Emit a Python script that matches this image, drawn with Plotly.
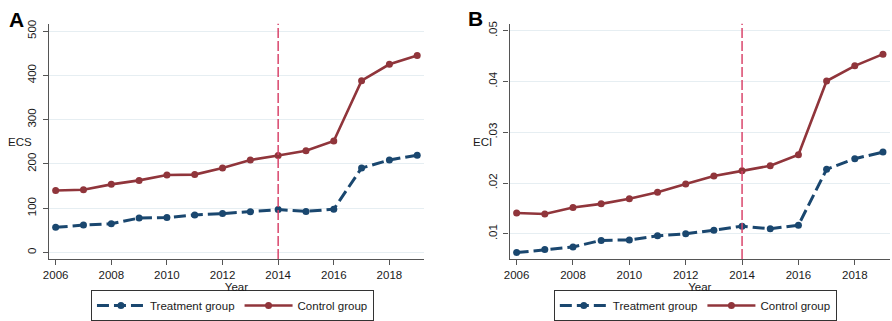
import plotly.graph_objects as go

years = list(range(2006, 2020))
ecs_treatment = [57, 62, 65, 78, 79, 85, 88, 92, 97, 93, 98, 191, 209, 220]
ecs_control = [140, 142, 154, 163, 175, 176, 191, 209, 219, 230, 252, 388, 425, 445]
eci_treatment = [0.0063, 0.0069, 0.0074, 0.0087, 0.0088, 0.0096, 0.0100, 0.0107, 0.0115, 0.0110, 0.0117, 0.0227, 0.0248, 0.0261]
eci_control = [0.0141, 0.0139, 0.0152, 0.0159, 0.0169, 0.0182, 0.0198, 0.0214, 0.0224, 0.0234, 0.0256, 0.0401, 0.0431, 0.0454]

x_ticks = [2006, 2008, 2010, 2012, 2014, 2016, 2018]
ecs_ticks = [0, 100, 200, 300, 400, 500]
ecs_ticklabels = ["0", "100", "200", "300", "400", "500"]
eci_ticks = [0.01, 0.02, 0.03, 0.04, 0.05]
eci_ticklabels = [".01", ".02", ".03", ".04", ".05"]
policy_year = 2014

NAVY = "#1a476f"
MAROON = "#90353b"
VLINE = "#d9456b"
GRID = "#e6eef2"
AXIS = "#555555"
FONT = "Liberation Sans, Arial, sans-serif"

W, H = 892, 321
def px_x(p):
    return p / W
def px_y(p):
    return 1 - p / H

fig = go.Figure()

panels = [
    ("x", "y", ecs_treatment, ecs_control, "legend"),
    ("x2", "y2", eci_treatment, eci_control, "legend2"),
]
for xa, ya, tr, ct, lg in panels:
    fig.add_trace(go.Scatter(x=years, y=tr, xaxis=xa, yaxis=ya, mode="lines+markers",
                             name="Treatment group", legend=lg,
                             line=dict(color=NAVY, width=3, dash="12px,5px"),
                             marker=dict(color=NAVY, size=7)))
    fig.add_trace(go.Scatter(x=years, y=ct, xaxis=xa, yaxis=ya, mode="lines+markers",
                             name="Control group", legend=lg,
                             line=dict(color=MAROON, width=2.6),
                             marker=dict(color=MAROON, size=7)))

y_dom = [px_y(259), px_y(20)]
common_x = dict(range=[2005.75, 2019.25], tickvals=x_ticks, ticks="outside", ticklen=5,
                tickcolor=AXIS, showline=True, linecolor=AXIS, linewidth=1.2,
                showgrid=False, zeroline=False,
                tickfont=dict(family=FONT, size=11.5, color="#1a1a1a"),
                title=dict(text="Year", standoff=0, font=dict(family=FONT, size=11.5, color="#1a1a1a")))
common_y = dict(ticks="outside", ticklen=5, tickcolor=AXIS, showline=True, linecolor=AXIS,
                linewidth=1.2, showgrid=True, gridcolor=GRID, gridwidth=1, zeroline=False,
                tickangle=-90, ticklabelstandoff=2,
                tickfont=dict(family=FONT, size=11.5, color="#1a1a1a"), domain=y_dom)

legend_common = dict(orientation="h", yanchor="middle", xanchor="center",
                     bordercolor="#333", borderwidth=1, bgcolor="white",
                     font=dict(family=FONT, size=11.5, color="#1a1a1a"), itemwidth=48,
                     tracegroupgap=0)

fig.update_layout(
    width=W, height=H, margin=dict(l=0, r=0, t=0, b=0),
    paper_bgcolor="white", plot_bgcolor="white",
    showlegend=True,
    xaxis=dict(common_x, domain=[px_x(43), px_x(421)], anchor="y"),
    yaxis=dict(common_y, range=[-14.4, 516.7], tickvals=ecs_ticks, ticktext=ecs_ticklabels, anchor="x"),
    xaxis2=dict(common_x, domain=[px_x(507), px_x(890)], anchor="y2"),
    yaxis2=dict(common_y, range=[0.00504, 0.0514], tickvals=eci_ticks, ticktext=eci_ticklabels, anchor="x2"),
    legend=dict(legend_common, x=px_x(228), y=px_y(306.5)),
    legend2=dict(legend_common, x=px_x(694), y=px_y(306.5)),
)

# policy year vertical lines
for xa, ya in [("x", "y"), ("x2", "y2")]:
    fig.add_shape(type="line", xref=xa, yref=f"{ya} domain", x0=policy_year, x1=policy_year,
                  y0=0, y1=1, line=dict(color=VLINE, width=1.5, dash="10px,3px"))

# panel labels and y-axis titles
fig.add_annotation(text="<b>A</b>", xref="paper", yref="paper", x=px_x(1), y=px_y(2),
                   xanchor="left", yanchor="top", showarrow=False,
                   font=dict(family=FONT, size=21, color="black"))
fig.add_annotation(text="<b>B</b>", xref="paper", yref="paper", x=px_x(463), y=px_y(1),
                   xanchor="left", yanchor="top", showarrow=False,
                   font=dict(family=FONT, size=21, color="black"))
fig.add_annotation(text="ECS", xref="paper", yref="paper", x=px_x(0), y=px_y(140),
                   xanchor="left", yanchor="middle", showarrow=False,
                   font=dict(family=FONT, size=11.5, color="#1a1a1a"))
fig.add_annotation(text="ECI", xref="paper", yref="paper", x=px_x(468), y=px_y(140),
                   xanchor="left", yanchor="middle", showarrow=False,
                   font=dict(family=FONT, size=11.5, color="#1a1a1a"))

fig.write_html("out.html", config={"displayModeBar": False},
               post_script="document.body.style.margin='0';document.body.style.overflow='hidden';")
